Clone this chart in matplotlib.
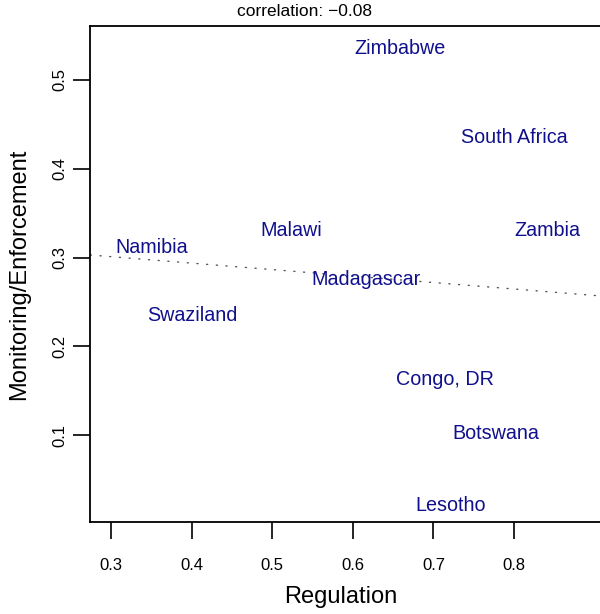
import numpy as np
import matplotlib
matplotlib.use("Agg")
import matplotlib.pyplot as plt

plt.rcParams['font.family'] = ['Liberation Sans', 'DejaVu Sans']

countries = ["Zimbabwe", "South Africa", "Zambia", "Malawi", "Namibia",
             "Madagascar", "Swaziland", "Congo, DR", "Botswana", "Lesotho"]
regulation = [0.659, 0.800, 0.842, 0.523, 0.351, 0.616, 0.401, 0.714, 0.778, 0.721]
monitoring = [0.538, 0.438, 0.333, 0.333, 0.314, 0.278, 0.237, 0.165, 0.104, 0.023]
xticks = [0.3, 0.4, 0.5, 0.6, 0.7, 0.8]
yticks = [0.1, 0.2, 0.3, 0.4, 0.5]

x = np.array(regulation)
y = np.array(monitoring)
r = np.corrcoef(x, y)[0, 1]
slope, intercept = np.polyfit(x, y, 1)

W, H = 600, 614
fig = plt.figure(figsize=(W / 100, H / 100), dpi=100)
left_px, bottom_px, top_px = 90.3, 522.3, 26.0
xlim = (0.2743, 0.95)
px_per_unit = 806.0
right_px = left_px + (xlim[1] - xlim[0]) * px_per_unit
ax = fig.add_axes([left_px / W, 1 - bottom_px / H,
                   (right_px - left_px) / W, (bottom_px - top_px) / H])
ax.set_xlim(*xlim)
ax.set_ylim(0.002, 0.5608)

for name, xi, yi in zip(countries, x, y):
    ax.text(xi, yi, name, ha='center', va='center_baseline', fontsize=14.2,
            color='#10108C')

xs = np.array(xlim)
ax.plot(xs, intercept + slope * xs, color='#555555', lw=1.0,
        dashes=(0.8, 6.2), solid_capstyle='round', dash_capstyle='round')

ax.set_xticks(xticks)
ax.set_xticklabels([f"{v:.1f}" for v in xticks])
ax.set_yticks(yticks)
ax.set_yticklabels([f"{v:.1f}" for v in yticks], rotation=90, va='center')
ax.tick_params(axis='both', length=12.5, width=1.2, labelsize=12)
ax.tick_params(axis='x', pad=13)
ax.tick_params(axis='y', pad=4)
for s in ax.spines.values():
    s.set_linewidth(1.3)

fig.text(340.7 / W, 1 - 596.7 / H, "Regulation", ha='center', va='center',
         fontsize=17)
fig.text(19.5 / W, 1 - 274 / H, "Monitoring/Enforcement", ha='center',
         va='center', rotation=90, fontsize=17)
fig.text(304.5 / W, 1 - 12 / H, f"correlation: \u2212{abs(r):.2f}" if r < 0
         else f"correlation: {r:.2f}", ha='center', va='center', fontsize=12.5)

fig.savefig("out.png", dpi=100)
